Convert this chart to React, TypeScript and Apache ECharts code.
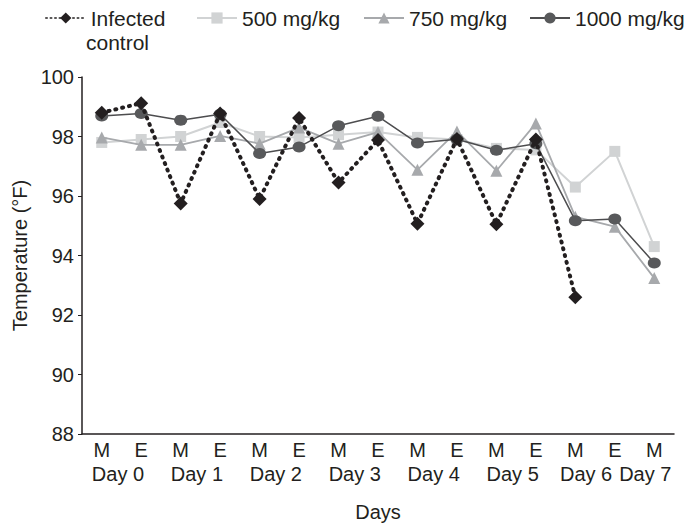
import React, { useEffect, useRef } from "react";
import * as echarts from "echarts";

const categories = ["M", "E", "M", "E", "M", "E", "M", "E", "M", "E", "M", "E", "M", "E", "M"];
const dayLabels = ["Day 0", "Day 1", "Day 2", "Day 3", "Day 4", "Day 5", "Day 6", "Day 7"];
const yTicks = { min: 88, max: 100, interval: 2 };

const infectedControl = [98.8, 99.12, 95.75, 98.77, 95.9, 98.62, 96.45, 97.88, 95.07, 97.92, 95.05, 97.9, 92.6, null, null];
const dose500 = [97.8, 97.9, 98.0, 98.47, 98.0, 97.97, 98.06, 98.15, 97.97, 97.9, 97.6, 97.55, 96.3, 97.5, 94.3];
const dose750 = [97.97, 97.72, 97.72, 98.02, 97.76, 98.3, 97.76, 98.15, 96.88, 98.17, 96.85, 98.44, 95.3, 94.97, 93.24];
const dose1000 = [98.69, 98.77, 98.55, 98.75, 97.43, 97.65, 98.36, 98.68, 97.78, 97.91, 97.54, 97.76, 95.17, 95.23, 93.75];

const TXT = "#231f20";
const FONT = "Liberation Sans, Arial, sans-serif";

export default function App() {
  const ref = useRef<HTMLDivElement>(null);
  useEffect(() => {
    document.body.style.margin = "0";
    if (!ref.current) return;
    const chart = echarts.init(ref.current, undefined, { renderer: "svg" });
    const legendBase = {
      top: 2,
      itemWidth: 40,
      itemHeight: 14,
      textStyle: { fontSize: 21, color: TXT, fontFamily: FONT, lineHeight: 22 },
      selectedMode: false,
    };
    chart.setOption({
      animation: false,
      backgroundColor: "#ffffff",
      textStyle: { fontFamily: FONT, color: TXT },
      grid: { left: 82, right: 24, top: 77, bottom: 93, containLabel: false },
      legend: [
        {
          ...legendBase,
          left: 40,
          data: ["Infected control"],
          formatter: () => "Infected",
          lineStyle: { width: 1.5, type: [1.5, 3] },
        },
        { ...legendBase, left: 191, data: ["500 mg/kg"] },
        { ...legendBase, left: 358, data: ["750 mg/kg"] },
        { ...legendBase, left: 524, data: ["1000 mg/kg"] },
      ],
      graphic: [
        {
          type: "text",
          left: 86,
          top: 32,
          style: { text: "control", fontSize: 21, fill: TXT, fontFamily: FONT },
        },
      ],
      xAxis: [
        {
          type: "category",
          data: categories,
          boundaryGap: true,
          name: "Days",
          nameLocation: "middle",
          nameGap: 68,
          nameTextStyle: { fontSize: 20, color: TXT, fontFamily: FONT },
          axisLine: { lineStyle: { color: TXT, width: 1.5 } },
          axisTick: { length: 4, lineStyle: { color: TXT, width: 1 } },
          axisLabel: { fontSize: 20, color: TXT, margin: 6, interval: 0, fontFamily: FONT },
          splitLine: { show: false },
        },
        {
          type: "value",
          position: "bottom",
          min: 0,
          max: 15,
          interval: 0.5,
          axisLine: { show: false },
          axisTick: { show: false },
          splitLine: { show: false },
          axisLabel: {
            fontSize: 20,
            color: TXT,
            margin: 30,
            fontFamily: FONT,
            showMinLabel: false,
            showMaxLabel: false,
            formatter: (v: number) => {
              if (Math.abs(v - 14.5) < 1e-6) return "{b|" + dayLabels[7] + "}";
              if (Number.isInteger(v) && v % 2 === 1) {
                const i = (v - 1) / 2;
                return (i === 6 ? "{b|" : "{a|") + dayLabels[i] + "}";
              }
              return "";
            },
            rich: {
              a: { fontSize: 20, color: TXT, fontFamily: FONT, padding: [0, 7, 0, 0] },
              b: { fontSize: 20, color: TXT, fontFamily: FONT, padding: [0, 18, 0, 0] },
            },
          },
        },
      ],
      yAxis: {
        type: "value",
        min: yTicks.min,
        max: yTicks.max,
        interval: yTicks.interval,
        name: "Temperature (°F)",
        nameLocation: "middle",
        nameGap: 38,
        nameTextStyle: { fontSize: 20, color: TXT, fontFamily: FONT },
        axisLine: { show: true, lineStyle: { color: TXT, width: 1.5 } },
        axisTick: { show: true, length: 4, lineStyle: { color: TXT } },
        axisLabel: { fontSize: 20, color: TXT, margin: 8, fontFamily: FONT },
        splitLine: { show: false },
      },
      series: [
        {
          name: "500 mg/kg",
          type: "line",
          data: dose500,
          symbol: "rect",
          symbolSize: 11,
          itemStyle: { color: "#d1d3d4" },
          lineStyle: { color: "#d1d3d4", width: 2 },
          z: 2,
        },
        {
          name: "750 mg/kg",
          type: "line",
          data: dose750,
          symbol: "triangle",
          symbolSize: 12,
          itemStyle: { color: "#a7a9ac" },
          lineStyle: { color: "#a7a9ac", width: 1.8 },
          z: 3,
        },
        {
          name: "1000 mg/kg",
          type: "line",
          data: dose1000,
          symbol: "circle",
          symbolSize: [13, 11],
          itemStyle: { color: "#58595b" },
          lineStyle: { color: "#4d4d4f", width: 1.5 },
          z: 4,
        },
        {
          name: "Infected control",
          type: "line",
          data: infectedControl,
          symbol: "diamond",
          symbolSize: 14,
          itemStyle: { color: "#231f20" },
          lineStyle: { color: "#231f20", width: 4, type: [1, 6], cap: "round" },
          z: 5,
        },
      ],
    });
    return () => chart.dispose();
  }, []);
  return (
    <div
      ref={ref}
      style={{ position: "fixed", left: 0, top: 0, width: 698, height: 527, background: "#fff" }}
    />
  );
}
